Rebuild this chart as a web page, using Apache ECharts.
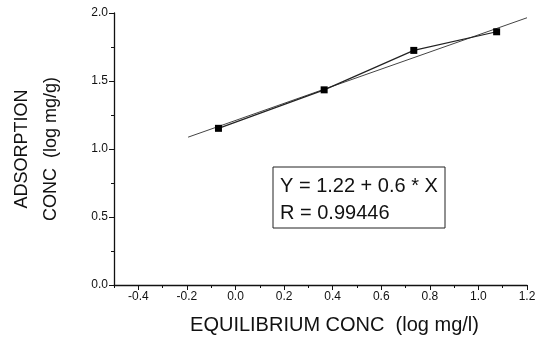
<!DOCTYPE html>
<html lang="en">
<head>
    <meta charset="UTF-8">
    <title>Adsorption isotherm</title>
    <script src="https://cdn.jsdelivr.net/npm/echarts@6.0.0/dist/echarts.min.js"></script>
    <style>
        body { margin: 0; background: #fff; }
        #chart { width: 542px; height: 340px; }
    </style>
</head>
<body>
    <div id="chart"></div>
    <script>
        // measured points (log equilibrium conc, log adsorption conc)
        const eqConc = [-0.07, 0.365, 0.734, 1.075];
        const adsConc = [1.152, 1.435, 1.725, 1.862];
        // regression line ends
        const fitX = [-0.195, 1.2];
        const fitY = [1.087, 1.965];
        const xTicks = [-0.4, -0.2, 0.0, 0.2, 0.4, 0.6, 0.8, 1.0, 1.2];
        const xMinor = [-0.5, -0.3, -0.1, 0.1, 0.3, 0.5, 0.7, 0.9, 1.1];
        const yTicks = [0.0, 0.5, 1.0, 1.5, 2.0];
        const yMinor = [0.25, 0.75, 1.25, 1.75];
        const fitText = ['Y = 1.22 + 0.6 * X', 'R = 0.99446'];

        const chart = echarts.init(document.getElementById('chart'));
        const font = 'Liberation Sans, Arial, sans-serif';
        const ink = '#111';

        chart.setOption({
            animation: false,
            grid: { left: 108, right: 15, top: 13, bottom: 51 },
            xAxis: [
                {
                    type: 'value',
                    min: -0.5,
                    max: 1.2,
                    name: 'EQUILIBRIUM CONC  (log mg/l)',
                    nameLocation: 'middle',
                    nameGap: 30,
                    nameTextStyle: { fontFamily: font, fontSize: 20, color: ink, padding: [0, 0, 0, 28] },
                    axisLine: { onZero: false, lineStyle: { color: ink, width: 1.3 } },
                    axisTick: { show: true, length: 5, customValues: xTicks, lineStyle: { color: ink } },
                    axisLabel: {
                        fontFamily: font, fontSize: 12, color: ink, margin: 6,
                        customValues: xTicks,
                        formatter: v => v.toFixed(1)
                    },
                    splitLine: { show: false }
                },
                {
                    type: 'value',
                    position: 'bottom',
                    min: -0.5,
                    max: 1.2,
                    axisLine: { show: false, onZero: false },
                    axisTick: { show: true, length: 3, customValues: xMinor, lineStyle: { color: ink } },
                    axisLabel: { show: false },
                    splitLine: { show: false }
                }
            ],
            yAxis: [
                {
                    type: 'value',
                    min: 0,
                    max: 2.0,
                    name: 'ADSORPTION\nCONC  (log mg/g)',
                    nameLocation: 'middle',
                    nameRotate: 90,
                    nameGap: 48,
                    nameTextStyle: { fontFamily: font, fontSize: 18, color: ink, lineHeight: 29 },
                    axisLine: { show: true, onZero: false, lineStyle: { color: ink, width: 1.3 } },
                    axisTick: { show: true, length: 5, customValues: yTicks, lineStyle: { color: ink } },
                    axisLabel: {
                        fontFamily: font, fontSize: 12, color: ink, margin: 6,
                        customValues: yTicks,
                        formatter: v => v.toFixed(1)
                    },
                    splitLine: { show: false }
                },
                {
                    type: 'value',
                    position: 'left',
                    min: 0,
                    max: 2.0,
                    axisLine: { show: false, onZero: false },
                    axisTick: { show: true, length: 3, customValues: yMinor, lineStyle: { color: ink } },
                    axisLabel: { show: false },
                    splitLine: { show: false }
                }
            ],
            series: [
                {
                    type: 'line',
                    data: fitX.map((x, i) => [x, fitY[i]]),
                    symbol: 'none',
                    lineStyle: { color: '#444', width: 1 },
                    z: 2
                },
                {
                    type: 'line',
                    data: eqConc.map((x, i) => [x, adsConc[i]]),
                    symbol: 'rect',
                    symbolSize: 7,
                    itemStyle: { color: '#000' },
                    lineStyle: { color: '#222', width: 1.2 },
                    z: 3
                }
            ],
            graphic: [
                {
                    type: 'rect',
                    shape: { x: 273, y: 167, width: 172, height: 61 },
                    style: { fill: '#fff', stroke: '#222', lineWidth: 1 }
                },
                {
                    type: 'text',
                    left: 280, top: 176,
                    style: { text: fitText[0], fontFamily: font, fontSize: 20, fill: ink }
                },
                {
                    type: 'text',
                    left: 280, top: 203,
                    style: { text: fitText[1], fontFamily: font, fontSize: 20, fill: ink }
                }
            ]
        });
    </script>
</body>
</html>
